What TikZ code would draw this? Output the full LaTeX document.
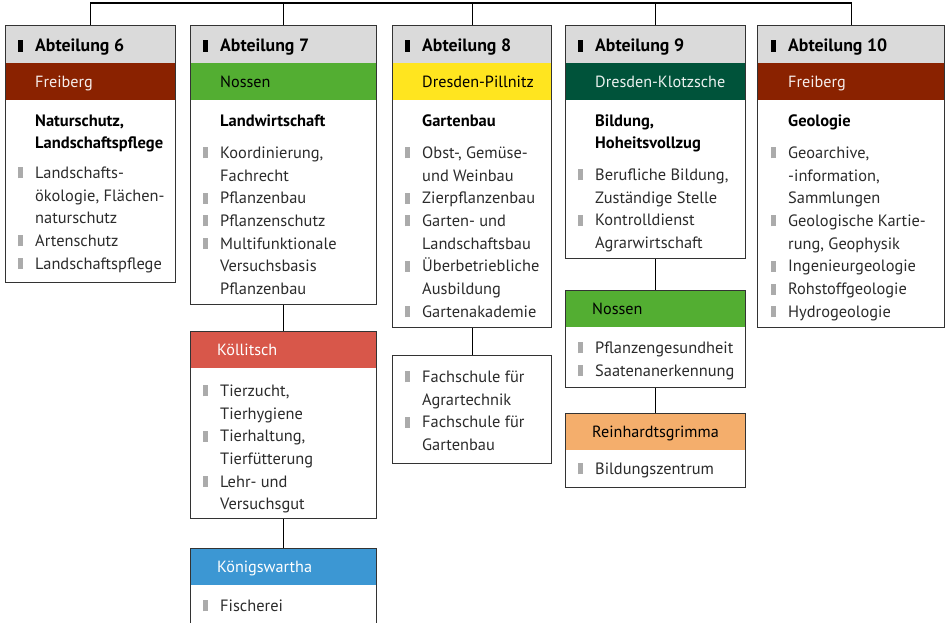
\documentclass[tikz,border=0pt]{standalone}
\usepackage{fontspec}
\setmainfont{PT Sans}
\usetikzlibrary{positioning}
\definecolor{headgray}{HTML}{DADADA}
\definecolor{boxline}{HTML}{333333}
\definecolor{bulletgray}{HTML}{ABABAB}
\definecolor{textgray}{HTML}{2B2B2B}
\definecolor{freiberg}{HTML}{8A2200}
\definecolor{nossen}{HTML}{53AE32}
\definecolor{pillnitz}{HTML}{FFE51F}
\definecolor{klotzsche}{HTML}{00533A}
\definecolor{koellitsch}{HTML}{D8574A}
\definecolor{koenigswartha}{HTML}{3C97D3}
\definecolor{reinhardt}{HTML}{F4AE6C}
\newcommand\blt{\strut\llap{\textcolor{bulletgray}{\rule{5pt}{11pt}}\hspace{12pt}}}
\newcommand\mrk{\llap{\rule{5pt}{11.5pt}\hspace{12pt}}}
\begin{document}
\begin{tikzpicture}[x=1pt,y=-1pt,
  box/.style={draw=boxline,line width=1.2pt,anchor=north west,inner sep=0pt},
  head/.style={fill=headgray,anchor=north west,inner sep=0pt,minimum height=38pt},
  band/.style={anchor=north west,inner sep=0pt,minimum height=36.5pt},
  htext/.style={anchor=base west,inner sep=0pt,font=\fontsize{17.8}{20}\selectfont\bfseries},
  btext/.style={anchor=base west,inner sep=0pt,font=\fontsize{16.2}{19}\selectfont},
  title/.style={anchor=north west,inner sep=0pt,align=left,
    font=\fontsize{16.5}{22.7}\selectfont\bfseries},
  items/.style={anchor=north west,inner sep=0pt,align=left,text=textgray,yshift=-1.5pt,
    font=\fontsize{16.4}{22.7}\selectfont},
  link/.style={line width=1.2pt}]
\useasboundingbox (0,0) rectangle (946,622);
% grey heads and coloured bands
\node[head,minimum width=170] (abt6h) at (5,25) {};
\node[band,minimum width=170,fill=freiberg] (abt6b) at (5,63) {};
\node[head,minimum width=186] (abt7h) at (190,25) {};
\node[band,minimum width=186,fill=nossen] (abt7b) at (190,63) {};
\node[head,minimum width=159] (abt8h) at (392,25) {};
\node[band,minimum width=159,fill=pillnitz] (abt8b) at (392,63) {};
\node[head,minimum width=180] (abt9h) at (565,25) {};
\node[band,minimum width=180,fill=klotzsche] (abt9b) at (565,63) {};
\node[head,minimum width=187] (abt10h) at (757,25) {};
\node[band,minimum width=187,fill=freiberg] (abt10b) at (757,63) {};
\node[band,minimum width=186,fill=koellitsch] (koelb) at (190,331) {};
\node[band,minimum width=186,fill=koenigswartha] (koenb) at (190,548) {};
\node[band,minimum width=180,fill=nossen] (nosb) at (565,290) {};
\node[band,minimum width=180,fill=reinhardt] (reinb) at (565,413) {};
% boxes
\node[box,minimum width=170,minimum height=257] (abt6) at (5,25) {};
\node[box,minimum width=186,minimum height=279] (abt7) at (190,25) {};
\node[box,minimum width=159,minimum height=302] (abt8) at (392,25) {};
\node[box,minimum width=180,minimum height=233] (abt9) at (565,25) {};
\node[box,minimum width=187,minimum height=302] (abt10) at (757,25) {};
\node[box,minimum width=186,minimum height=187] (koel) at (190,331) {};
\node[box,minimum width=186,minimum height=80] (koen) at (190,548) {};
\node[box,minimum width=159,minimum height=108] (fach) at (392,355) {};
\node[box,minimum width=180,minimum height=97] (nos) at (565,290) {};
\node[box,minimum width=180,minimum height=74] (rein) at (565,413) {};
% Abteilung 6
\node[htext] (t6a) at (35,51.7) {\mrk Abteilung 6};
\node[btext,text=white!92!freiberg] (t6b) at (35,87.3) {Freiberg};
\node[title] (t6c) at (35,110.1) {\strut Naturschutz,\\Landschaftspflege};
\node[items] (t6d) at (35,160.8) {\blt Landschafts-\\ökologie, Flächen-\\naturschutz\\
  \blt Artenschutz\\\blt Landschaftspflege};
% Abteilung 7
\node[htext] (t7a) at (220,51.7) {\mrk Abteilung 7};
\node[btext,text=black] (t7b) at (220,87.3) {Nossen};
\node[title] (t7c) at (220,110.1) {\strut Landwirtschaft};
\node[items] (t7d) at (220,140.8) {\blt Koordinierung,\\Fachrecht\\\blt Pflanzenbau\\
  \blt Pflanzenschutz\\\blt Multifunktionale\\Versuchsbasis\\Pflanzenbau};
\node[btext,text=white] (t7e) at (217,355.3) {Köllitsch};
\node[items] (t7f) at (220,378.8) {\blt Tierzucht,\\Tierhygiene\\\blt Tierhaltung,\\
  Tierfütterung\\\blt Lehr- und\\Versuchsgut};
\node[btext,text=white] (t7g) at (217,572.3) {Königswartha};
\node[items] (t7h) at (220,593.8) {\blt Fischerei};
% Abteilung 8
\node[htext] (t8a) at (422,51.7) {\mrk Abteilung 8};
\node[btext,text=black] (t8b) at (422,87.3) {Dresden-Pillnitz};
\node[title] (t8c) at (422,110.1) {\strut Gartenbau};
\node[items] (t8d) at (422,140.8) {\blt Obst-, Gemüse-\\und Weinbau\\\blt Zierpflanzenbau\\
  \blt Garten- und\\Landschaftsbau\\\blt Überbetriebliche\\Ausbildung\\\blt Gartenakademie};
\node[items] (t8e) at (422,364.8) {\blt Fachschule für\\Agrartechnik\\\blt Fachschule für\\Gartenbau};
% Abteilung 9
\node[htext] (t9a) at (595,51.7) {\mrk Abteilung 9};
\node[btext,text=white!92!klotzsche] (t9b) at (595,87.3) {Dresden-Klotzsche};
\node[title] (t9c) at (595,110.1) {\strut Bildung,\\Hoheitsvollzug};
\node[items] (t9d) at (595,162.8) {\blt Berufliche Bildung,\\Zuständige Stelle\\
  \blt Kontrolldienst\\Agrarwirtschaft};
\node[btext,text=black] (t9e) at (592,314.3) {Nossen};
\node[items] (t9f) at (595,335.8) {\blt Pflanzengesundheit\\\blt Saatenanerkennung};
\node[btext,text=black] (t9g) at (592,437.3) {Reinhardtsgrimma};
\node[items] (t9h) at (595,456.8) {\blt Bildungszentrum};
% Abteilung 10
\node[htext] (t10a) at (788,51.7) {\mrk Abteilung 10};
\node[btext,text=white!92!freiberg] (t10b) at (788,87.3) {Freiberg};
\node[title] (t10c) at (788,110.1) {\strut Geologie};
\node[items] (t10d) at (788,140.8) {\blt Geoarchive,\\-information,\\Sammlungen\\
  \blt Geologische Kartie-\\rung, Geophysik\\\blt Ingenieurgeologie\\
  \blt Rohstoffgeologie\\\blt Hydrogeologie};
% connectors
\coordinate (top) at (0,3);
\draw[link] (abt6.north) |- (top -| abt10.north) -- (abt10.north);
\draw[link] (abt7.north) -- (abt7.north |- top);
\draw[link] (abt8.north) -- (abt8.north |- top);
\draw[link] (abt9.north) -- (abt9.north |- top);
\draw[link] (abt7.south) -- (koel.north);
\draw[link] (koel.south) -- (koen.north);
\draw[link] (abt8.south) -- (fach.north);
\draw[link] (abt9.south) -- (nos.north);
\draw[link] (nos.south) -- (rein.north);
\end{tikzpicture}
\end{document}
